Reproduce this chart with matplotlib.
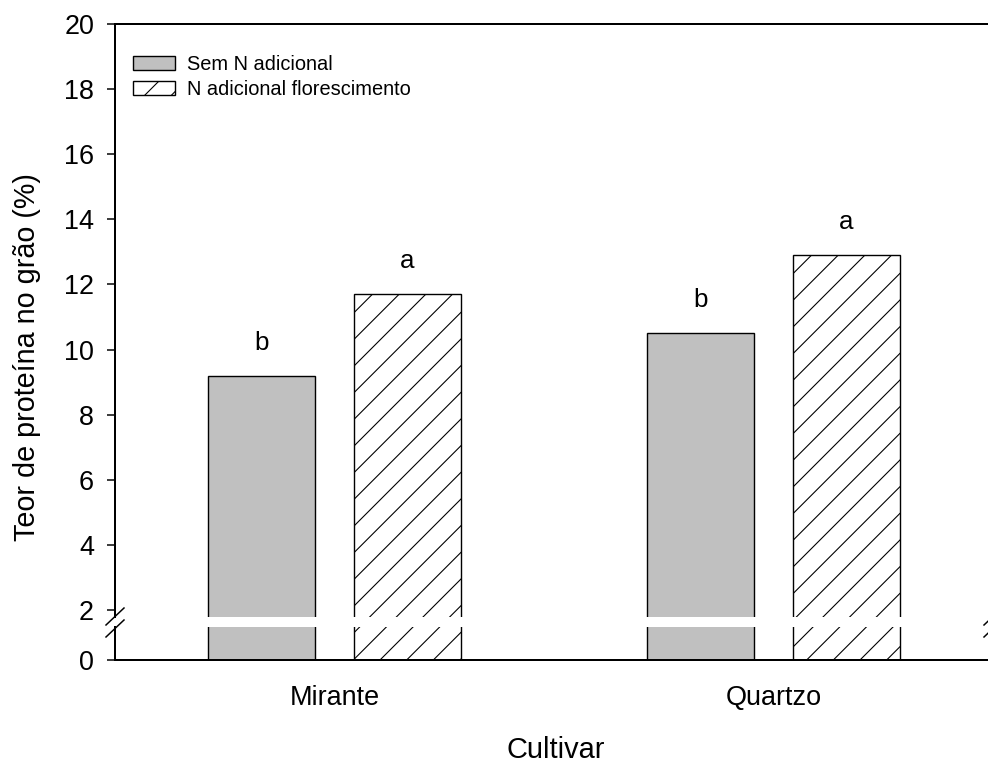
import matplotlib
matplotlib.use("Agg")
import matplotlib.pyplot as plt
from matplotlib.lines import Line2D
import numpy as np

# data
cultivars = ["Mirante", "Quartzo"]
sem_n = [9.2, 10.5]
n_floresc = [11.7, 12.9]
letters_sem_n = ["b", "b"]
letters_floresc = ["a", "a"]
series_names = ["Sem N adicional", "N adicional florescimento"]
yticks_top = [2, 4, 6, 8, 10, 12, 14, 16, 18, 20]
yticks_bot = [0]

# dpi chosen so the hatch spacing matches the original
DPI = 160
W, H = 988, 765


def pt(px):
    """pixel size -> points at the figure dpi"""
    return px * 72 / DPI


def box(x0, y0, x1, y1):
    """pixel box (origin top-left) -> figure rect"""
    return [x0 / W, 1 - y1 / H, (x1 - x0) / W, (y1 - y0) / H]


plt.rcParams["font.family"] = ["Liberation Sans", "DejaVu Sans"]
plt.rcParams["hatch.linewidth"] = pt(1.1)
plt.rcParams["hatch.color"] = "black"

fig = plt.figure(figsize=(W / DPI, H / DPI), dpi=DPI)
ax_top = fig.add_axes(box(115, 24, 993, 617))
ax_bot = fig.add_axes(box(115, 627, 993, 660))

x = np.arange(len(cultivars))
width = 0.243
off = 0.166
edge_lw = pt(1.4)

for ax in (ax_top, ax_bot):
    b1 = ax.bar(x - off, sem_n, width, color="#c0c0c0", edgecolor="black",
                linewidth=edge_lw, label=series_names[0])
    b2 = ax.bar(x + off, n_floresc, width, color="white", edgecolor="black",
                hatch="//", linewidth=edge_lw, label=series_names[1])
    ax.set_xlim(-0.5, 1.5)
    for s in ax.spines.values():
        s.set_linewidth(pt(2))
        s.set_color("black")
    ax.spines["right"].set_visible(False)
    ax.tick_params(axis="y", direction="out", length=pt(8), width=pt(1.5),
                   labelsize=pt(27), pad=pt(13))
    if ax is ax_top:
        top_bars = (b1, b2)

# upper part of the broken axis
ax_top.set_ylim(2 - 7 / 32.56, 20)
ax_top.set_yticks(yticks_top)
ax_top.spines["bottom"].set_visible(False)
ax_top.set_xticks([])
ax_top.bar_label(top_bars[0], letters_sem_n, padding=pt(21), fontsize=pt(26))
ax_top.bar_label(top_bars[1], letters_floresc, padding=pt(21), fontsize=pt(26))

ax_top.legend(loc="upper left", bbox_to_anchor=((133 - 115) / 878, (617 - 55) / 593),
              frameon=False, borderpad=0, borderaxespad=0, handlelength=2.1,
              handleheight=0.7, handletextpad=0.6, labelspacing=0.3,
              fontsize=pt(20))

# lower part
ax_bot.set_ylim(0, 33 / 25)
ax_bot.set_yticks(yticks_bot)
ax_bot.spines["top"].set_visible(False)
ax_bot.set_xticks(x, cultivars)
ax_bot.tick_params(axis="x", length=0, labelsize=pt(27), pad=pt(25))

# break marks on the y axes
for sx in (115, 993):
    for cy in (616.5, 628.5):
        fig.add_artist(Line2D([(sx - 9) / W, (sx + 9) / W],
                              [1 - (cy + 8.5) / H, 1 - (cy - 8.5) / H],
                              color="black", linewidth=pt(1.5)))

fig.text(27 / W, 1 - 357 / H, "Teor de proteína no grão (%)", rotation=90,
         ha="center", va="center", fontsize=pt(28.8))
fig.text(556 / W, 1 - 750 / H, "Cultivar", ha="center", va="center", fontsize=pt(29))

fig.savefig("out.png", dpi=DPI, facecolor="white")
